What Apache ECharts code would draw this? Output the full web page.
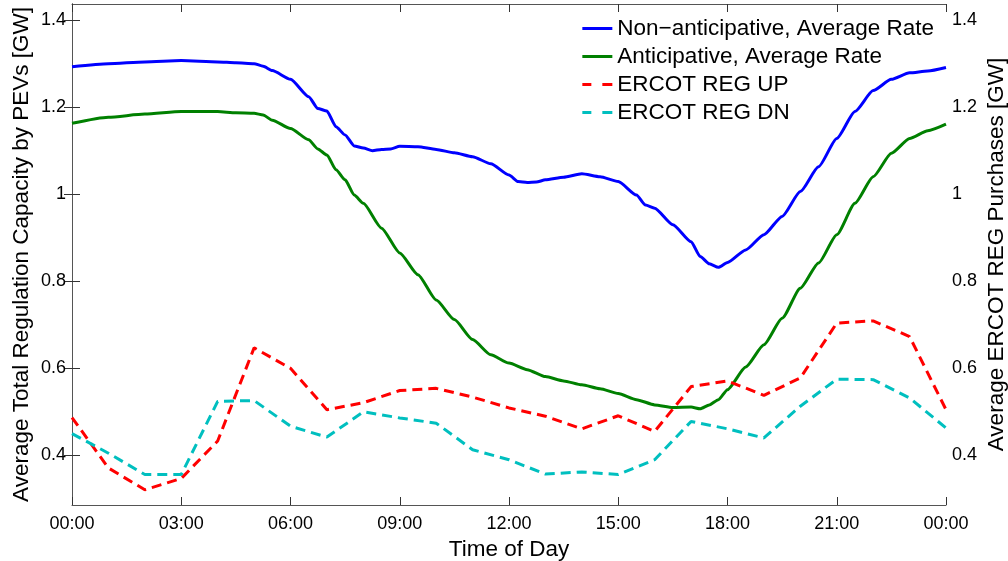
<!DOCTYPE html>
<html>
<head>
<meta charset="utf-8">
<script src="https://cdn.jsdelivr.net/npm/echarts@6/dist/echarts.min.js"></script>
<style>
html,body{margin:0;padding:0;background:#fff;}
#chart{width:1008px;height:561px;}
</style>
</head>
<body>
<div id="chart"></div>
<script>
// Hourly ERCOT data (hour of day 0..24)
const hourTimes = [0,1,2,3,4,5,6,7,8,9,10,11,12,13,14,15,16,17,18,19,20,21,22,23,24];
const regUp = [0.487,0.371,0.321,0.347,0.433,0.647,0.600,0.505,0.521,0.549,0.554,0.534,0.509,0.490,0.461,0.491,0.455,0.558,0.571,0.538,0.578,0.704,0.709,0.673,0.505];
const regDn = [0.450,0.405,0.356,0.356,0.524,0.526,0.467,0.442,0.500,0.486,0.474,0.413,0.390,0.357,0.362,0.356,0.390,0.478,0.461,0.440,0.513,0.575,0.574,0.532,0.463];

// PEV capacity curves
const nonAntTimes = [0,1,2,3,4,4.5,5,5.25,5.5,6,6.5,6.75,7,7.25,7.5,7.75,8,8.25,8.5,8.75,9,9.5,10,10.5,11,11.5,12,12.25,12.5,12.75,13,13.5,14,14.5,15,15.5,15.75,16,16.5,17,17.25,17.5,17.75,18,18.5,19,19.5,20,20.5,21,21.5,22,22.5,23,23.5,24];
const nonAnt = [1.293,1.300,1.304,1.307,1.304,1.302,1.300,1.294,1.284,1.264,1.224,1.197,1.191,1.155,1.136,1.111,1.106,1.100,1.103,1.104,1.110,1.109,1.103,1.095,1.086,1.070,1.044,1.029,1.027,1.028,1.033,1.039,1.047,1.040,1.029,0.998,0.975,0.968,0.930,0.891,0.857,0.840,0.832,0.843,0.872,0.907,0.949,1.006,1.063,1.128,1.190,1.238,1.264,1.279,1.283,1.291];

const antTimes = [0,1,2,3,4,4.5,5,5.25,5.5,6,6.5,6.75,7,7.25,7.5,7.75,8,8.5,9,9.5,10,10.5,11,11.5,12,12.5,13,13.5,14,14.5,15,15.5,16,16.5,17,17.25,17.5,17.75,18,18.5,19,19.5,20,20.5,21,21.5,22,22.5,23,23.5,24];
const ant = [1.163,1.177,1.184,1.190,1.190,1.187,1.186,1.182,1.170,1.151,1.125,1.104,1.090,1.056,1.033,0.998,0.979,0.922,0.865,0.815,0.757,0.712,0.666,0.631,0.612,0.597,0.581,0.571,0.562,0.553,0.542,0.528,0.516,0.510,0.511,0.507,0.516,0.528,0.551,0.603,0.654,0.715,0.784,0.842,0.907,0.979,1.040,1.094,1.128,1.146,1.161];

const xTickLabels = ['00:00','03:00','06:00','09:00','12:00','15:00','18:00','21:00','00:00'];
const seriesNames = ['Non\u2212anticipative, Average Rate','Anticipative, Average Rate','ERCOT REG UP','ERCOT REG DN'];

const pair = (ts, vs) => ts.map((t, i) => [t, vs[i]]);

const FONT = 'Liberation Sans, Arial, Helvetica, sans-serif';
const SOLID_ICON = 'path://M0,0h30v3h-30z';
const DASH_ICON = 'path://M0,0h9v3h-9zM20,0h10v3h-10z';
const chart = echarts.init(document.getElementById('chart'), null, {renderer: 'canvas'});

const yCommon = {
  type: 'value', min: 0.286, max: 1.437, splitNumber: 5,
  splitLine: {show: false},
  axisTick: {show: true, inside: true, length: 8, lineStyle: {color: '#333'}},
  axisLabel: {showMinLabel: false, showMaxLabel: false, fontSize: 18, color: '#000', fontFamily: FONT, margin: 6},
  nameLocation: 'middle', nameRotate: 90, nameMoveOverlap: false,
  nameTextStyle: {fontSize: 22.5, color: '#000', fontFamily: FONT}
};

chart.setOption({
  animation: false,
  backgroundColor: '#fff',
  grid: {left: 72, right: 62, top: 4, bottom: 56, outerBoundsMode: 'none', containLabel: false},
  legend: {
    right: 69, top: 12, orient: 'vertical', itemWidth: 30, itemHeight: 3, itemGap: 5,
    textStyle: {fontSize: 22.5, lineHeight: 22, color: '#000', fontFamily: FONT},
    data: [
      {name: seriesNames[0], icon: SOLID_ICON},
      {name: seriesNames[1], icon: SOLID_ICON},
      {name: seriesNames[2], icon: DASH_ICON},
      {name: seriesNames[3], icon: DASH_ICON}
    ]
  },
  xAxis: [{
    type: 'value', min: 0, max: 24, interval: 3,
    name: 'Time of Day', nameLocation: 'middle', nameGap: 31,
    nameTextStyle: {fontSize: 22.5, color: '#000', fontFamily: FONT},
    splitLine: {show: false},
    axisLine: {lineStyle: {color: '#555', width: 1}},
    axisTick: {inside: true, length: 8, lineStyle: {color: '#333'}},
    axisLabel: {fontSize: 18, color: '#000', fontFamily: FONT, margin: 10,
      formatter: v => xTickLabels[Math.round(v / 3)]}
  }, {
    type: 'value', min: 0, max: 24, interval: 3, position: 'top',
    splitLine: {show: false},
    axisLine: {show: true, lineStyle: {color: '#555', width: 1}},
    axisTick: {inside: true, length: 8, lineStyle: {color: '#333'}},
    axisLabel: {show: false}
  }],
  yAxis: [Object.assign({}, yCommon, {
    position: 'left', name: 'Average Total Regulation Capacity by PEVs [GW]', nameGap: 39,
    axisLine: {show: true, lineStyle: {color: '#000', width: 1}}
  }), Object.assign({}, yCommon, {
    position: 'right', name: 'Average ERCOT REG Purchases [GW]', nameGap: 39,
    axisLine: {show: true, lineStyle: {color: '#555', width: 1}}
  })],
  series: [
    {name: seriesNames[0], type: 'line', data: pair(nonAntTimes, nonAnt),
      showSymbol: false, symbol: 'none', smooth: 0.2, smoothMonotone: 'x', lineStyle: {color: '#0000ff', width: 3}, itemStyle: {color: '#0000ff'}},
    {name: seriesNames[1], type: 'line', data: pair(antTimes, ant),
      showSymbol: false, symbol: 'none', smooth: 0.2, smoothMonotone: 'x', lineStyle: {color: '#008000', width: 3}, itemStyle: {color: '#008000'}},
    {name: seriesNames[2], type: 'line', yAxisIndex: 1, data: pair(hourTimes, regUp),
      showSymbol: false, symbol: 'none', lineStyle: {color: '#ff0000', width: 3, type: [10, 6]}, itemStyle: {color: '#ff0000'}},
    {name: seriesNames[3], type: 'line', yAxisIndex: 1, data: pair(hourTimes, regDn),
      showSymbol: false, symbol: 'none', lineStyle: {color: '#00bfbf', width: 3, type: [10, 6]}, itemStyle: {color: '#00bfbf'}}
  ]
});
</script>
</body>
</html>
